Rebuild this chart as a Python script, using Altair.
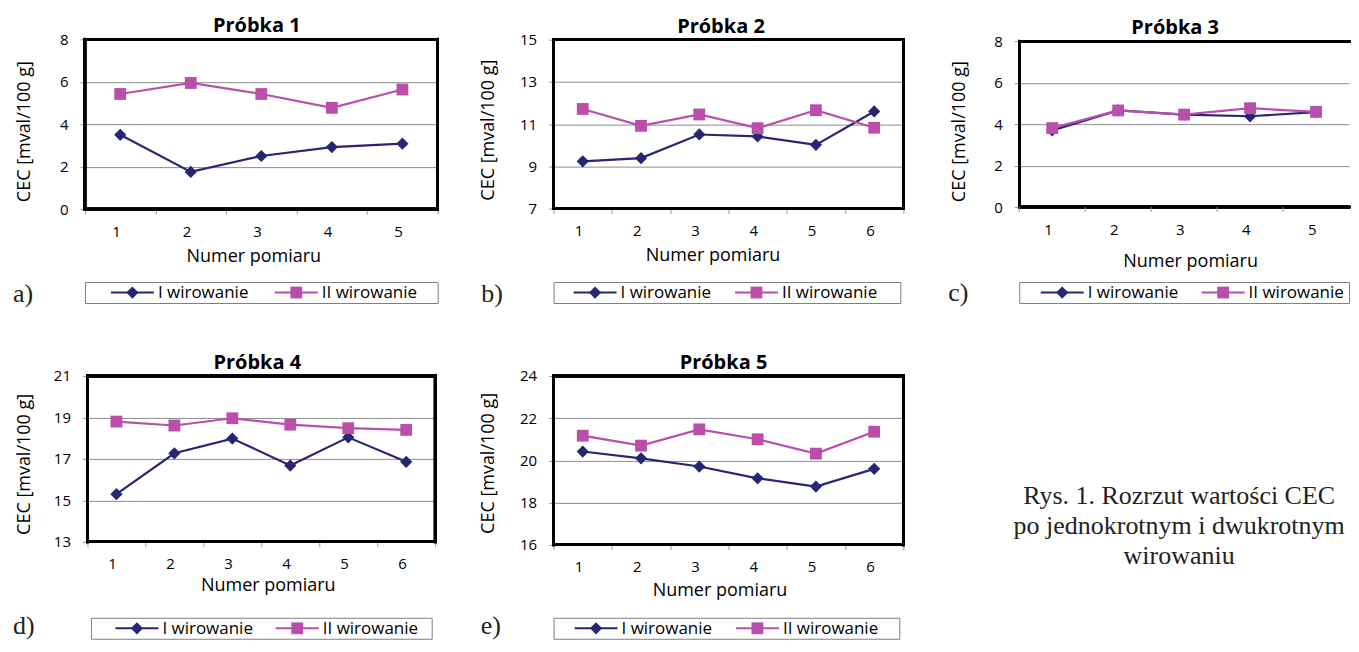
import altair as alt
import pandas as pd

FONT = "Open Sans"
SERIF = "Liberation Serif"
SERIES = ["I wirowanie", "II wirowanie"]
COLORS = ["#262673", "#B94FAB"]
SHAPES = ["diamond", "square"]
SIZES = [150, 140]

# ---- data ----
P1_X = [1, 2, 3, 4, 5]
P1_I = [3.5, 1.75, 2.5, 2.92, 3.08]
P1_II = [5.42, 5.94, 5.42, 4.77, 5.63]

P2_X = [1, 2, 3, 4, 5, 6]
P2_I = [9.24, 9.39, 10.51, 10.42, 10.02, 11.6]
P2_II = [11.72, 10.92, 11.46, 10.81, 11.66, 10.83]

P3_X = [1, 2, 3, 4, 5]
P3_I = [3.7, 4.66, 4.46, 4.38, 4.58]
P3_II = [3.81, 4.66, 4.46, 4.77, 4.59]

P4_X = [1, 2, 3, 4, 5, 6]
P4_I = [15.3, 17.27, 17.98, 16.68, 18.04, 16.86]
P4_II = [18.8, 18.61, 18.96, 18.65, 18.48, 18.4]

P5_X = [1, 2, 3, 4, 5, 6]
P5_I = [20.42, 20.1, 19.71, 19.15, 18.76, 19.6]
P5_II = [21.17, 20.7, 21.47, 21.0, 20.32, 21.36]

TITLES = ["Próbka 1", "Próbka 2", "Próbka 3", "Próbka 4", "Próbka 5"]
TAGS = ["a)", "b)", "c)", "d)", "e)"]
Y_TICKS = [[0, 2, 4, 6, 8], [7, 9, 11, 13, 15], [0, 2, 4, 6, 8],
           [13, 15, 17, 19, 21], [16, 18, 20, 22, 24]]
Y_TITLE = "CEC [mval/100 g]"
X_TITLE = "Numer pomiaru"
CAPTION_LINES = ["Rys. 1. Rozrzut wartości CEC",
                 "po jednokrotnym i dwukrotnym",
                 "wirowaniu"]

FRAME = dict(color="black", strokeWidth=2.5, strokeCap="square")
TICK_COLOR = "#999999"
LEG_H = 21


def color_enc():
    return alt.Color("series:N", scale=alt.Scale(domain=SERIES, range=COLORS), legend=None)


def panel(idx, xs, s1, s2, w, h, g, open_right=False):
    ylo, yhi = Y_TICKS[idx][0], Y_TICKS[idx][-1]
    df = pd.DataFrame({
        "n": xs + xs,
        "series": [SERIES[0]] * len(xs) + [SERIES[1]] * len(xs),
        "v": s1 + s2,
    })
    x = alt.X("n:O", scale=alt.Scale(type="band", paddingInner=0, paddingOuter=0),
              bandPosition=0.5,
              axis=alt.Axis(title=X_TITLE, labelAngle=0, tickBand="extent",
                            ticks=not open_right, tickSize=5, tickColor=TICK_COLOR,
                            domain=False, grid=False, labelFont=FONT, labelFontSize=15,
                            labelColor="black", labelPadding=17 if not open_right else 22,
                            titleFont=FONT, titleFontSize=18, titleFontWeight="normal",
                            titleColor="black", titleX=g["xtx"], titleY=g["xty"],
                            titleBaseline="alphabetic", titleAlign="center"))
    y = alt.Y("v:Q", scale=alt.Scale(domain=[ylo, yhi], nice=False, zero=False),
              axis=alt.Axis(title=Y_TITLE, values=Y_TICKS[idx], grid=True,
                            gridColor="#8c8c8c", gridWidth=1, tickSize=5,
                            tickColor=TICK_COLOR, domain=False,
                            labelFont=FONT, labelFontSize=15, labelColor="black",
                            labelPadding=12, titleFont=FONT, titleFontSize=18,
                            titleFontWeight="normal", titleColor="black",
                            titleX=g["ytx"], titleY=g["yty"], titleAngle=270,
                            titleBaseline="alphabetic", titleAlign="center"))
    base = alt.Chart(df)
    layers = [
        base.mark_rule(**FRAME).encode(y=alt.YDatum(yhi)),
        base.mark_rule(**FRAME).encode(y=alt.YDatum(ylo)),
        base.mark_rule(**FRAME).encode(x=alt.XDatum(xs[0], type="ordinal", bandPosition=0)),
    ]
    if not open_right:
        layers.append(base.mark_rule(**FRAME).encode(
            x=alt.XDatum(xs[-1], type="ordinal", bandPosition=1)))
    else:
        # category separators on the x axis (the right edge runs off the page)
        ticks_df = pd.DataFrame({"n": xs})
        layers.append(alt.Chart(ticks_df).mark_rule(color=TICK_COLOR, strokeWidth=1,
                                                    y2Offset=5).encode(
            x=alt.X("n:O", bandPosition=0), y=alt.YDatum(ylo), y2=alt.Y2Datum(ylo)))
    layers.append(base.mark_line(strokeWidth=2.2).encode(x=x, y=y, color=color_enc()))
    for k in range(2):
        layers.append(base.transform_filter(alt.datum.series == SERIES[k]).mark_point(
            shape=SHAPES[k], filled=True, size=SIZES[k], opacity=1
        ).encode(x=x, y=y, color=color_enc()))
    return alt.layer(*layers).properties(
        width=w, height=h,
        title=alt.TitleParams(TITLES[idx], font=FONT, fontSize=20, fontWeight="bold",
                              color="black", anchor="middle", frame="group",
                              dx=g["tdx"], offset=-20, baseline="alphabetic"))


def legend_box(idx, w, centers, tagx, tagy):
    df = pd.DataFrame({"series": SERIES})
    base = alt.Chart(df)
    xe = alt.X("series:N", scale=alt.Scale(type="point", domain=SERIES, range=centers,
                                           padding=0), axis=None)
    mid = LEG_H / 2
    seg = base.mark_rule(strokeWidth=2.2, xOffset=-21.5, x2Offset=21.5).encode(
        x=xe, x2="series:N", y=alt.value(mid), color=color_enc())
    pts = base.mark_point(filled=True, opacity=1).encode(
        x=xe, y=alt.value(mid), color=color_enc(),
        shape=alt.Shape("series:N", scale=alt.Scale(domain=SERIES, range=SHAPES), legend=None),
        size=alt.Size("series:N", scale=alt.Scale(domain=SERIES, range=SIZES), legend=None))
    lab = base.mark_text(align="left", baseline="middle", dx=25.5, font=FONT, fontSize=17,
                         color="black").encode(x=xe, y=alt.value(mid + 0.5), text="series:N")
    tag = alt.Chart(pd.DataFrame({"t": [TAGS[idx]]})).mark_text(
        font=SERIF, fontSize=26, align="left", baseline="alphabetic", color="#222222"
    ).encode(x=alt.value(tagx), y=alt.value(tagy), text="t:N")
    return alt.layer(seg, pts, lab, tag).properties(
        width=w, height=LEG_H, view=alt.ViewBackground(stroke="#7f7f7f", strokeWidth=1))


p1 = panel(0, P1_X, P1_I, P1_II, 353, 170,
           dict(tdx=-4.5, ytx=-55.5, yty=92, xtx=168.5, xty=52))
p2 = panel(1, P2_X, P2_I, P2_II, 350, 169,
           dict(tdx=-7.5, ytx=-60, yty=90, xtx=159, xty=52))
p3 = panel(2, P3_X, P3_I, P3_II, 330, 166,
           dict(tdx=-9, ytx=-55, yty=90, xtx=171, xty=59), open_right=True)
p4 = panel(3, P4_X, P4_I, P4_II, 348, 166,
           dict(tdx=-4, ytx=-58, yty=88, xtx=180.5, xty=49))
p5 = panel(4, P5_X, P5_I, P5_II, 350, 169,
           dict(tdx=-5, ytx=-60, yty=87, xtx=166, xty=51))

l1 = legend_box(0, 353, [47.5, 211.5], -72, 20)
l2 = legend_box(1, 347, [41.5, 203], -72.5, 20)
l3 = legend_box(2, 330, [43, 204], -71, 19)
l4 = legend_box(3, 341, [46, 206.5], -78, 16)
l5 = legend_box(4, 346, [42.5, 204], -73, 16)

caption = alt.Chart(pd.DataFrame({"t": ["\n".join(CAPTION_LINES)]})).mark_text(
    font=SERIF, fontSize=26, lineBreak="\n", lineHeight=30, align="center",
    baseline="alphabetic", color="#222222"
).encode(x=alt.value(160), y=alt.value(128.5), text="t:N").properties(width=330, height=169)

chart = alt.concat(p1, p2, p3, l1, l2, l3, p4, p5, caption, l4, l5, columns=3,
                   spacing={"row": 73, "column": 116}, bounds="flush", center=True
                   ).properties(padding={"left": 4, "top": 8, "right": 0, "bottom": 0}
                   ).configure_view(stroke="transparent", strokeWidth=0)

chart.save("out.html", embed_options={"renderer": "svg", "actions": False})
